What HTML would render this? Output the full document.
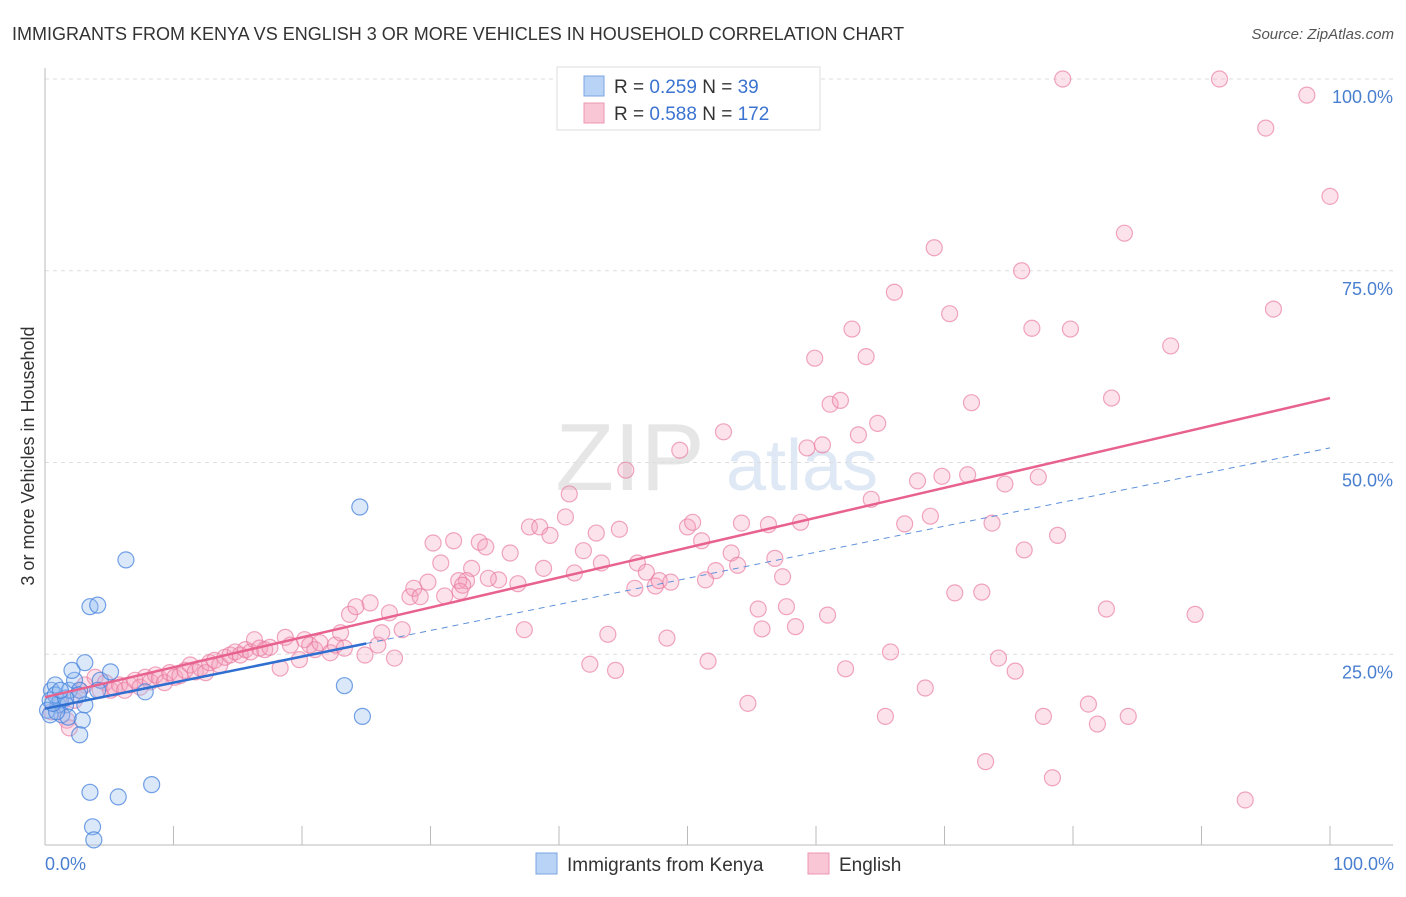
<!DOCTYPE html>
<html><head><meta charset="utf-8"><style>
body{margin:0;background:#fff;font-family:"Liberation Sans",sans-serif;}
svg text{font-family:"Liberation Sans",sans-serif;}
</style></head><body>
<svg id="chart" width="1406" height="892" viewBox="0 0 1406 892" xmlns="http://www.w3.org/2000/svg">
<text x="12" y="40" font-size="18" fill="#333">IMMIGRANTS FROM KENYA VS ENGLISH 3 OR MORE VEHICLES IN HOUSEHOLD CORRELATION CHART</text>
<text x="1394" y="39" font-size="15" fill="#555" font-style="italic" text-anchor="end">Source: ZipAtlas.com</text>
<text x="630" y="490" font-size="96" fill="#e6e6e6" font-family="Liberation Serif" text-anchor="middle">ZIP</text>
<text x="802" y="490" font-size="72" fill="#dfe8f5" text-anchor="middle">atlas</text>
<g id="grid"></g><g id="axes"></g><g id="marks"></g><g id="trends"></g>
<text transform="translate(34,456) rotate(-90)" font-size="18" fill="#333" text-anchor="middle">3 or more Vehicles in Household</text>
<text x="45" y="870" font-size="18" fill="#4a7fd0">0.0%</text>
<text x="1394" y="870" font-size="18" fill="#4a7fd0" text-anchor="end">100.0%</text>
<g>
<rect x="557" y="67" width="263" height="63" fill="#fff" stroke="#ddd"/>
<rect x="584" y="76" width="20" height="20" fill="#b8d3f5" stroke="#7aa6e0"/>
<rect x="584" y="103" width="20" height="20" fill="#f8c6d5" stroke="#eb97b2"/>
<text x="614" y="93" font-size="19" fill="#333">R = <tspan fill="#3b73d0">0.259</tspan>   N = <tspan fill="#3b73d0"> 39</tspan></text>
<text x="614" y="120" font-size="19" fill="#333">R = <tspan fill="#3b73d0">0.588</tspan>   N = <tspan fill="#3b73d0">172</tspan></text>
</g>
<g>
<rect x="536" y="853" width="21" height="21" fill="#b8d3f5" stroke="#7aa6e0"/>
<text x="567" y="871" font-size="19" fill="#333">Immigrants from Kenya</text>
<rect x="808" y="853" width="21" height="21" fill="#f8c6d5" stroke="#eb97b2"/>
<text x="839" y="871" font-size="19" fill="#333">English</text>
</g>
</svg>
<script>
const blueX=[0.5,0.8,0.4,1.0,0.2,1.2,1.6,1.9,2.3,2.1,2.7,3.1,2.9,2.7,2.6,3.1,4.3,5.1,4.1,3.5,4.1,6.3,7.8,3.5,5.7,8.3,3.7,3.8,24.5,23.3,24.7,0.8,1.3,1.8,0.4,0.9,0.6,1.6,1.2];
const blueY=[20.3,21.0,19.0,18.4,17.7,19.0,18.4,20.3,21.6,22.9,20.3,18.4,16.4,14.5,19.7,23.9,21.6,22.7,20.3,31.2,31.4,37.3,20.1,7.0,6.4,8.0,2.5,0.8,44.2,20.9,16.9,19.7,17.1,16.8,17.1,17.5,18.6,19.3,20.3];
const pinkX=[79.2,91.4,98.2,95.0,100,84.0,69.2,76.0,66.1,95.6,70.4,62.8,76.8,79.8,59.9,63.9,87.6,61.1,61.9,72.1,83.0,64.8,63.3,59.3,60.5,49.4,52.8,45.2,67.9,69.8,71.8,74.7,77.3,64.3,40.8,40.5,37.7,38.5,39.3,30.2,31.8,33.8,34.3,36.2,30.8,33.2,35.3,32.8,32.2,36.8,38.8,41.2,41.9,42.9,44.7,43.3,46.1,46.8,45.9,47.5,47.8,48.7,50.0,50.4,51.1,54.2,56.3,58.8,53.4,52.2,53.9,56.8,57.4,51.4,66.9,68.9,73.7,76.2,78.8,72.9,70.8,82.6,89.5,55.5,57.7,60.9,55.8,58.4,48.4,43.8,37.3,42.4,44.4,51.6,54.7,62.3,65.8,68.5,74.2,75.5,65.4,73.2,78.4,77.7,81.2,81.9,84.3,93.4,
0.5,1.2,1.7,1.9,2.3,2.7,3.1,3.9,4.3,4.7,5.1,5.4,5.8,6.2,6.6,7.0,7.4,7.8,8.2,8.6,8.9,9.3,9.7,10.1,10.5,10.9,11.3,11.7,12.1,12.5,12.8,13.2,13.6,14.0,14.4,14.8,15.2,15.6,16.0,16.3,16.7,17.1,17.5,18.3,18.7,19.1,19.8,20.2,20.6,21.0,21.4,22.2,22.6,23.0,23.3,23.7,24.2,24.9,25.3,25.9,26.2,26.8,27.2,27.8,28.4,28.7,29.2,29.8,31.1,32.3,32.5,34.5];
const pinkY=[100,100,97.9,93.6,84.7,79.9,78.0,75.0,72.2,70.0,69.4,67.4,67.5,67.4,63.6,63.8,65.2,57.6,58.1,57.8,58.4,55.1,53.6,51.9,52.3,51.6,54.0,49.0,47.6,48.2,48.4,47.2,48.1,45.2,45.9,42.9,41.6,41.6,40.5,39.5,39.8,39.6,39.0,38.2,36.9,36.2,34.7,34.6,34.6,34.2,36.2,35.6,38.5,40.8,41.3,36.9,36.9,35.7,33.6,33.9,34.6,34.4,41.6,42.2,39.8,42.1,41.9,42.2,38.2,35.9,36.6,37.5,35.1,34.7,42.0,43.0,42.1,38.6,40.5,33.1,33.0,30.9,30.2,30.9,31.2,30.1,28.3,28.6,27.1,27.6,28.2,23.7,22.9,24.1,18.6,23.1,25.3,20.6,24.5,22.8,16.9,11.0,8.9,16.9,18.5,15.9,16.9,6.0,
17.5,18.4,16.4,15.4,19.0,20.3,21.0,22.0,20.3,21.3,20.3,20.6,21.0,20.3,21.0,21.6,20.7,22.0,21.4,22.3,21.9,21.3,22.6,22.0,22.2,22.9,23.6,22.7,23.2,22.6,23.9,24.2,23.6,24.6,24.9,25.3,24.9,25.6,25.3,26.9,25.8,25.6,25.9,23.2,27.2,26.2,24.3,26.9,26.2,25.6,26.5,25.2,26.2,27.8,25.8,30.2,31.2,24.9,31.7,26.2,27.8,30.4,24.5,28.2,32.5,33.6,32.5,34.4,32.6,33.2,34.0,34.9];
const yTicks=[25,50,75,100];
const yTickLabels=["25.0%","50.0%","75.0%","100.0%"];
const xTicks=[0,10,20,30,40,50,60,70,80,90,100];
const pinkTrend=[19.4,58.4];
const blueTrend=[17.9,51.9];
const blueSolidEnd=25;

const NS="http://www.w3.org/2000/svg";
const X0=45,X1=1330,Y0=846,Y1=79;
const sx=v=>X0+(X1-X0)*v/100;
const sy=v=>Y0-(Y0-Y1)*v/100;
function mk(tag,attrs,parent){const e=document.createElementNS(NS,tag);for(const k in attrs)e.setAttribute(k,attrs[k]);parent.appendChild(e);return e;}
const grid=document.getElementById('grid'),axes=document.getElementById('axes'),marks=document.getElementById('marks'),trends=document.getElementById('trends');
yTicks.forEach((t,i)=>{
  const l=mk('line',{x1:45,x2:1393,y1:sy(t),y2:sy(t),stroke:'#ddd','stroke-dasharray':'4,4'},grid);
  
  
  const tx=mk('text',{x:1393,y:sy(t)+24,'font-size':18,fill:'#4a7fd0','text-anchor':'end'},grid);
  tx.textContent=yTickLabels[i];
  
  
});
const ax=mk('line',{x1:45,x2:1393,y1:845,y2:845,stroke:'#bbb'},axes);


const ay=mk('line',{x1:45,x2:45,y1:68,y2:845,stroke:'#bbb'},axes);


xTicks.forEach(t=>{
  const l=mk('line',{x1:sx(t),x2:sx(t),y1:826,y2:845,stroke:'#bbb'},axes);
  
  
});
pinkX.forEach((x,i)=>{
  const c=mk('circle',{cx:sx(x),cy:sy(pinkY[i]),r:8,fill:'rgba(244,160,188,0.3)',stroke:'rgba(232,120,158,0.65)','stroke-width':1.2},marks);
  
  
});
blueX.forEach((x,i)=>{
  const c=mk('circle',{cx:sx(x),cy:sy(blueY[i]),r:8,fill:'rgba(150,190,240,0.35)',stroke:'rgba(70,130,220,0.75)','stroke-width':1.2},marks);
  
  
});
const bAt=v=>blueTrend[0]+(blueTrend[1]-blueTrend[0])*v/100;
const pl=mk('line',{x1:sx(0),y1:sy(pinkTrend[0]),x2:sx(100),y2:sy(pinkTrend[1]),stroke:'#e8628e','stroke-width':2.5},trends);


const bd=mk('line',{x1:sx(blueSolidEnd),y1:sy(bAt(blueSolidEnd)),x2:sx(100),y2:sy(bAt(100)),stroke:'#5b8fd8','stroke-width':1,'stroke-dasharray':'6,5'},trends);


const bs=mk('line',{x1:sx(0),y1:sy(bAt(0)),x2:sx(blueSolidEnd),y2:sy(bAt(blueSolidEnd)),stroke:'#2f6fd0','stroke-width':2.5},trends);


</script>
</body></html>
